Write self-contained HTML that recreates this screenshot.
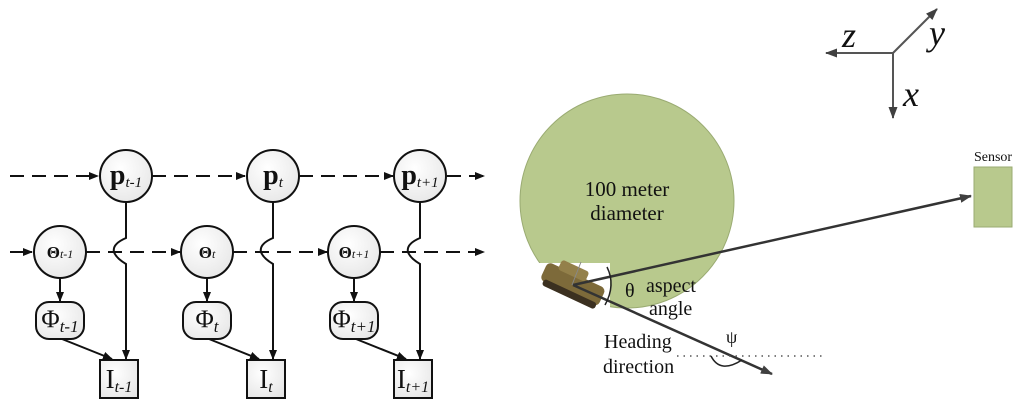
<!DOCTYPE html>
<html><head><meta charset="utf-8"><style>
html,body{margin:0;padding:0;background:#fff;}
svg{display:block;font-family:"Liberation Serif",serif;}
</style></head><body>
<svg width="1024" height="411" viewBox="0 0 1024 411" xmlns="http://www.w3.org/2000/svg">
<defs>
<marker id="a" markerWidth="10" markerHeight="8" refX="9" refY="4" orient="auto" markerUnits="userSpaceOnUse"><path d="M0,0 L10,4 L0,8 Z" fill="#111"/></marker>
<marker id="g" markerWidth="12" markerHeight="9" refX="11" refY="4.5" orient="auto" markerUnits="userSpaceOnUse"><path d="M0,0 L12,4.5 L0,9 Z" fill="#404040"/></marker>
<radialGradient id="nf" cx="0.4" cy="0.35" r="0.8"><stop offset="0" stop-color="#fff"/><stop offset="1" stop-color="#e4e4e4"/></radialGradient>
</defs>
<g stroke="#111" stroke-width="2" fill="none">
<line x1="10" y1="176" x2="98" y2="176" stroke-dasharray="14,8" marker-end="url(#a)"/>
<line x1="152" y1="176" x2="245" y2="176" stroke-dasharray="14,8" marker-end="url(#a)"/>
<line x1="299" y1="176" x2="393" y2="176" stroke-dasharray="14,8" marker-end="url(#a)"/>
<line x1="447" y1="176" x2="484" y2="176" stroke-dasharray="14,8" marker-end="url(#a)"/>
<line x1="10" y1="252" x2="32" y2="252" marker-end="url(#a)"/>
<line x1="86" y1="252" x2="180" y2="252" stroke-dasharray="14,8" marker-end="url(#a)"/>
<line x1="233" y1="252" x2="327" y2="252" stroke-dasharray="14,8" marker-end="url(#a)"/>
<line x1="380" y1="252" x2="484" y2="252" stroke-dasharray="14,8" marker-end="url(#a)"/>
</g>
<g id="col">
<path d="M126,202 V238 Q112,244 114,252 Q116,258 126,264 V359" stroke="#111" stroke-width="2" fill="none" marker-end="url(#a)"/>
<line x1="60" y1="278" x2="60" y2="301" stroke="#111" stroke-width="2" marker-end="url(#a)"/>
<line x1="62" y1="339" x2="112" y2="359" stroke="#111" stroke-width="2" marker-end="url(#a)"/>
</g>
<use href="#col" x="147"/>
<use href="#col" x="294"/>
<g stroke="#111" stroke-width="2" fill="url(#nf)">
<circle cx="126" cy="176" r="26"/><circle cx="273" cy="176" r="26"/><circle cx="420" cy="176" r="26"/>
<circle cx="60" cy="252" r="26"/><circle cx="207" cy="252" r="26"/><circle cx="354" cy="252" r="26"/>
<rect x="36" y="302" width="48" height="37" rx="13"/><rect x="183" y="302" width="48" height="37" rx="13"/><rect x="330" y="302" width="48" height="37" rx="13"/>
<rect x="100" y="360" width="38" height="38"/><rect x="247" y="360" width="38" height="38"/><rect x="394" y="360" width="38" height="38"/>
</g>
<g fill="#111">
<text x="126" y="184" text-anchor="middle" font-size="28" font-weight="bold">p<tspan font-size="15" font-style="italic" font-weight="normal" dy="3">t-1</tspan></text>
<text x="273" y="184" text-anchor="middle" font-size="28" font-weight="bold">p<tspan font-size="15" font-style="italic" font-weight="normal" dy="3">t</tspan></text>
<text x="420" y="184" text-anchor="middle" font-size="28" font-weight="bold">p<tspan font-size="15" font-style="italic" font-weight="normal" dy="3">t+1</tspan></text>
<text x="60" y="258" text-anchor="middle" font-size="17" font-weight="bold">Θ<tspan font-size="12" font-style="italic" font-weight="normal">t-1</tspan></text>
<text x="207" y="258" text-anchor="middle" font-size="17" font-weight="bold">Θ<tspan font-size="12" font-style="italic" font-weight="normal">t</tspan></text>
<text x="354" y="258" text-anchor="middle" font-size="17" font-weight="bold">Θ<tspan font-size="12" font-style="italic" font-weight="normal">t+1</tspan></text>
<text x="60" y="327" text-anchor="middle" font-size="25">Φ<tspan font-size="17" font-style="italic" dy="5">t-1</tspan></text>
<text x="207" y="327" text-anchor="middle" font-size="25">Φ<tspan font-size="17" font-style="italic" dy="5">t</tspan></text>
<text x="354" y="327" text-anchor="middle" font-size="25">Φ<tspan font-size="17" font-style="italic" dy="5">t+1</tspan></text>
<text x="119" y="388" text-anchor="middle" font-size="27">I<tspan font-size="16" font-style="italic" dy="4">t-1</tspan></text>
<text x="266" y="388" text-anchor="middle" font-size="27">I<tspan font-size="16" font-style="italic" dy="4">t</tspan></text>
<text x="413" y="388" text-anchor="middle" font-size="27">I<tspan font-size="16" font-style="italic" dy="4">t+1</tspan></text>
</g>
<!-- right -->
<circle cx="627" cy="201" r="107" fill="#b8c98d" stroke="#9aab72" stroke-width="1"/>
<rect x="537" y="263" width="73" height="48" fill="#fff"/>
<text x="627" y="196" text-anchor="middle" font-size="21" fill="#111">100 meter</text>
<text x="627" y="220" text-anchor="middle" font-size="21" fill="#111">diameter</text>
<g transform="rotate(25 572 286)">
<rect x="540" y="274" width="64" height="20" rx="5" fill="#7d6a3a"/>
<rect x="544" y="291" width="58" height="7" rx="3" fill="#3b3020"/>
<rect x="552" y="266" width="30" height="11" rx="3" fill="#93804a"/>
</g>
<line x1="572" y1="285" x2="581" y2="262" stroke="#888" stroke-width="1"/>
<line x1="573" y1="285" x2="971" y2="196" stroke="#333" stroke-width="2.5" marker-end="url(#g)"/>
<line x1="573" y1="285" x2="772" y2="374" stroke="#333" stroke-width="2.5" marker-end="url(#g)"/>
<path d="M607,267 Q616,285 605,305" stroke="#222" stroke-width="1.5" fill="none"/>
<text x="625" y="297" font-size="20" fill="#111">θ</text>
<text x="646" y="292" font-size="20" fill="#111">aspect</text>
<text x="649" y="315" font-size="20" fill="#111">angle</text>
<text x="604" y="348" font-size="20" fill="#111">Heading</text>
<text x="603" y="373" font-size="20" fill="#111">direction</text>
<line x1="677" y1="356" x2="822" y2="356" stroke="#555" stroke-width="1.5" stroke-dasharray="1.5,5"/>
<path d="M711,356 Q720,374 742,360" stroke="#222" stroke-width="1.5" fill="none"/>
<text x="726" y="343" font-size="18" fill="#111">ψ</text>
<rect x="974" y="167" width="38" height="60" fill="#b8c98d" stroke="#9aab72"/>
<text x="993" y="161" text-anchor="middle" font-size="14" fill="#111">Sensor</text>
<g stroke="#555" stroke-width="2">
<line x1="893" y1="53" x2="826" y2="53" marker-end="url(#g)"/>
<line x1="893" y1="53" x2="937" y2="9" marker-end="url(#g)"/>
<line x1="893" y1="53" x2="893" y2="118" marker-end="url(#g)"/>
</g>
<g font-style="italic" font-size="36" fill="#111">
<text x="842" y="47">z</text>
<text x="929" y="45">y</text>
<text x="903" y="106">x</text>
</g>
</svg>
</body></html>
